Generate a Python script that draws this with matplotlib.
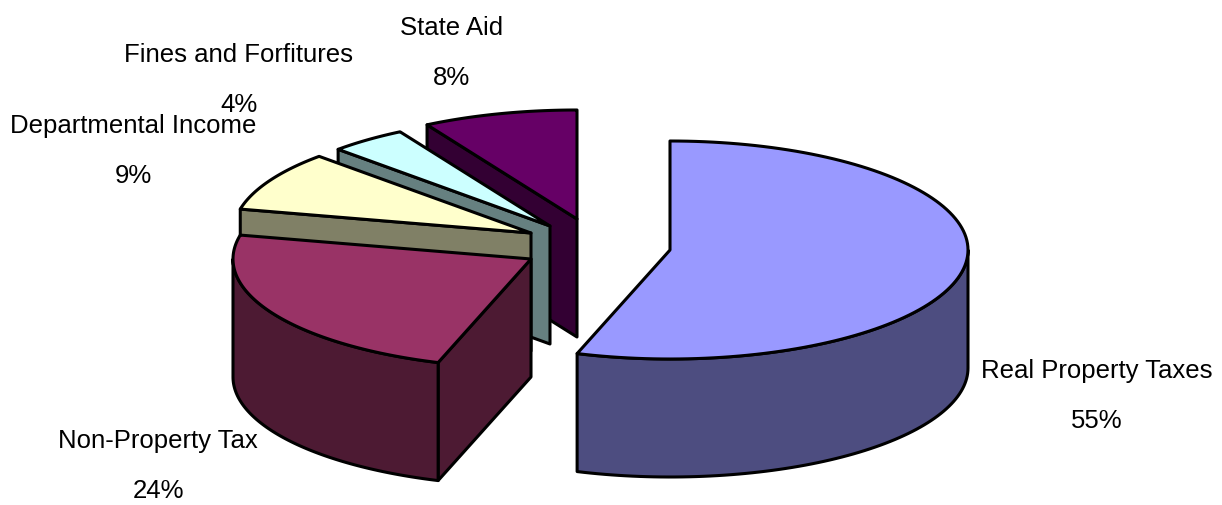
"""Exploded 3D style revenue pie, drawn by hand since matplotlib has no 3D pie."""
import numpy as np
import matplotlib
matplotlib.use('Agg')
import matplotlib.pyplot as plt
from matplotlib.patches import Polygon

categories = ['Real Property Taxes', 'Non-Property Tax', 'Departmental Income',
              'Fines and Forfitures', 'State Aid']
shares = [55.1, 23.5, 8.9, 4.2, 8.4]
top_colors = ['#9999FF', '#993366', '#FFFFCC', '#CCFFFF', '#660066']
side_colors = ['#4D4D80', '#4D1A33', '#808066', '#668080', '#330033']

# centre of each exploded slice, in pixels of the picture
centers = [(670, 251), (531, 260), (531, 234), (550, 227), (577, 220)]
label_pos = [(1097, 371), (158, 441), (133, 126), (239, 55), (452, 28)]
RX, RY, DEPTH = 298, 109, 118
LINE_GAP = 50

plt.rcParams['font.family'] = ['Liberation Sans', 'DejaVu Sans']

fig = plt.figure(figsize=(12.22, 5.06), dpi=100)
ax = fig.add_axes([0, 0, 1, 1])
ax.set_xlim(0, 1222)
ax.set_ylim(506, 0)
ax.axis('off')


def ring(cx, cy, deg):
    t = np.radians(deg)
    return np.column_stack([cx + RX * np.sin(t), cy - RY * np.cos(t)])


def face(points, color, z):
    ax.add_patch(Polygon(points, closed=True, facecolor=color, edgecolor='black',
                         linewidth=2.2, joinstyle='round', zorder=z))


ends = np.cumsum(shares) / np.sum(shares) * 360
starts = np.concatenate([[0], ends[:-1]])

# back slices first, the big one goes on top
for i in range(len(shares) - 1, -1, -1):
    z = 10 - i
    cx, cy = centers[i]
    a, b = starts[i], ends[i]
    drop = np.array([0, DEPTH])
    # cut face on the start side
    if 180 < a < 360:
        edge = ring(cx, cy, [a])[0]
        c = np.array([cx, cy])
        face([c, edge, edge + drop, c + drop], side_colors[i], z)
    # curved wall, only the front half shows
    lo, hi = max(a, 90), min(b, 270)
    if hi > lo:
        arc = ring(cx, cy, np.linspace(lo, hi, 80))
        face(np.vstack([arc, arc[::-1] + drop]), side_colors[i], z)
    # top
    arc = ring(cx, cy, np.linspace(a, b, 120))
    face(np.vstack([[cx, cy], arc]), top_colors[i], z)

for name, share, (x, y) in zip(categories, shares, label_pos):
    ax.text(x, y, name, ha='center', va='center', fontsize=18.5, color='black', zorder=20)
    ax.text(x, y + LINE_GAP, f'{share:.0f}%', ha='center', va='center', fontsize=18.5,
            color='black', zorder=20)

fig.savefig('out.png', dpi=100, facecolor='white')
